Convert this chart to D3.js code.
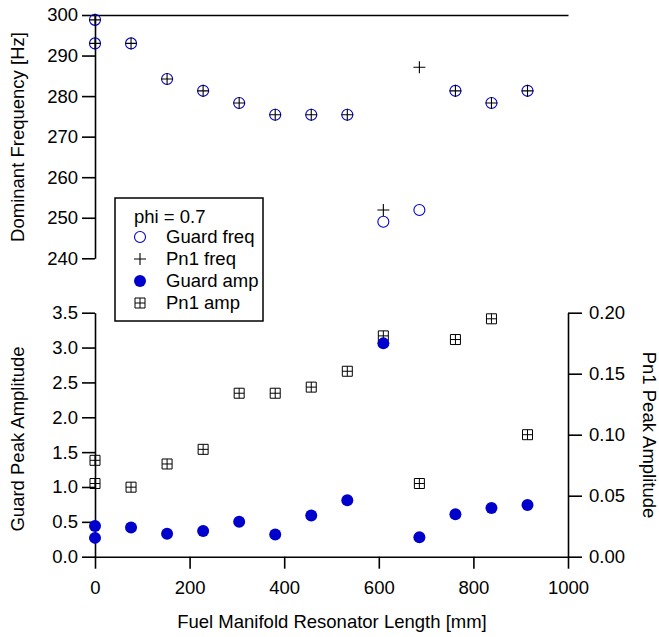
<!DOCTYPE html>
<html><head><meta charset="utf-8">
<script src="https://cdn.jsdelivr.net/npm/d3@7"></script>
<style>
body{margin:0;background:#fff;}
text{font-family:"Liberation Sans",Arial,sans-serif;fill:#000;}
</style></head>
<body><svg id="c" width="659" height="637"></svg>
<script>
const lengths = [0, 0, 76.2, 152.4, 228.6, 304.8, 381, 457.2, 533.4, 609.6, 685.8, 762, 838.2, 914.4];
const guardFreq = [298.8, 293.0, 293.0, 284.2, 281.3, 278.3, 275.4, 275.4, 275.4, 249.0, 251.9, 281.3, 278.3, 281.3];
const pn1Freq = [298.8, 293.0, 293.0, 284.2, 281.3, 278.3, 275.4, 275.4, 275.4, 251.9, 287.1, 281.3, 278.3, 281.3];
const guardAmp = [0.44, 0.27, 0.42, 0.33, 0.37, 0.50, 0.32, 0.59, 0.81, 3.06, 0.28, 0.61, 0.70, 0.74];
const pn1Amp = [0.079, 0.060, 0.057, 0.076, 0.088, 0.134, 0.134, 0.139, 0.152, 0.181, 0.060, 0.178, 0.195, 0.100];
const xTicks = [0, 200, 400, 600, 800, 1000];
const freqTicks = [240, 250, 260, 270, 280, 290, 300];
const guardAmpTicks = [0, 0.5, 1.0, 1.5, 2.0, 2.5, 3.0, 3.5];
const pn1AmpTicks = [0, 0.05, 0.10, 0.15, 0.20];
const legendItems = ["Guard freq", "Pn1 freq", "Guard amp", "Pn1 amp"];

const FS = 18.5;
const BLUE = "#0000cc";
const svg = d3.select("#c");
const x = d3.scaleLinear().domain([0, 1000]).range([95, 568]);
const yF = d3.scaleLinear().domain([240, 300]).range([258.3, 15]);
const yG = d3.scaleLinear().domain([0, 3.5]).range([556.7, 312.7]);
const yP = d3.scaleLinear().domain([0, 0.2]).range([556.7, 312.7]);

function styleAxis(g) {
  g.selectAll("path,line").attr("stroke", "#000").attr("stroke-width", 1.6);
  g.selectAll("text").style("font-size", FS + "px").style("font-family", "Liberation Sans, Arial, sans-serif").attr("fill", "#000");
}
svg.append("g").attr("transform", `translate(${x(0)},0)`)
  .call(d3.axisLeft(yF).tickValues(freqTicks).tickSize(13).tickSizeOuter(0).tickPadding(4))
  .call(styleAxis);
svg.append("g").attr("transform", `translate(0,${yF(300)})`)
  .call(d3.axisTop(x).tickValues([]).tickSizeOuter(0))
  .call(styleAxis);
svg.append("g").attr("transform", `translate(0,${yG(0)})`)
  .call(d3.axisBottom(x).tickValues(xTicks).tickFormat(d3.format("d")).tickSize(12).tickSizeOuter(0).tickPadding(12))
  .call(styleAxis);
svg.append("g").attr("transform", `translate(${x(0)},0)`)
  .call(d3.axisLeft(yG).tickValues(guardAmpTicks).tickFormat(d3.format(".1f")).tickSize(13).tickSizeOuter(0).tickPadding(4))
  .call(styleAxis);
svg.append("g").attr("transform", `translate(${x(1000)},0)`)
  .call(d3.axisRight(yP).tickValues(pn1AmpTicks).tickFormat(d3.format(".2f")).tickSize(14).tickSizeOuter(0).tickPadding(7))
  .call(styleAxis);

svg.append("text").attr("transform", "translate(18,137) rotate(-90)").attr("text-anchor", "middle").attr("dy", "0.35em").style("font-size", FS + "px").text("Dominant Frequency [Hz]");
svg.append("text").attr("transform", "translate(18,439) rotate(-90)").attr("text-anchor", "middle").attr("dy", "0.35em").style("font-size", FS + "px").text("Guard Peak Amplitude");
svg.append("text").attr("transform", "translate(649,435) rotate(90)").attr("text-anchor", "middle").attr("dy", "0.35em").style("font-size", FS + "px").text("Pn1 Peak Amplitude");
svg.append("text").attr("x", 332).attr("y", 622).attr("text-anchor", "middle").attr("dy", "0.35em").style("font-size", FS + "px").text("Fuel Manifold Resonator Length [mm]");

function openCircle(g, cx, cy) { g.append("circle").attr("cx", cx).attr("cy", cy).attr("r", 5.5).attr("fill", "none").attr("stroke", BLUE).attr("stroke-width", 1.1); }
function plus(g, cx, cy) { g.append("path").attr("d", `M${cx-6},${cy}H${cx+6}M${cx},${cy-6}V${cy+6}`).attr("stroke", "#000").attr("stroke-width", 1.1).attr("fill", "none"); }
function dot(g, cx, cy) { g.append("circle").attr("cx", cx).attr("cy", cy).attr("r", 6).attr("fill", BLUE); }
function boxCross(g, cx, cy) { g.append("path").attr("d", `M${cx-5},${cy-5}h10v10h-10zM${cx-5},${cy}h10M${cx},${cy-5}v10`).attr("stroke", "#000").attr("stroke-width", 1).attr("fill", "none"); }

const gm = svg.append("g");
lengths.forEach((L, i) => openCircle(gm, x(L), yF(guardFreq[i])));
lengths.forEach((L, i) => plus(gm, x(L), yF(pn1Freq[i])));
lengths.forEach((L, i) => boxCross(gm, x(L), yP(pn1Amp[i])));
lengths.forEach((L, i) => dot(gm, x(L), yG(guardAmp[i])));

const lg = svg.append("g");
lg.append("rect").attr("x", 115).attr("y", 198).attr("width", 148).attr("height", 123).attr("fill", "#fff").attr("stroke", "#000").attr("stroke-width", 1.5);
lg.append("text").attr("x", 134).attr("y", 216.5).attr("dy", "0.35em").style("font-size", FS + "px").text("phi = 0.7");
const markers = [openCircle, plus, dot, boxCross];
legendItems.forEach((t, i) => {
  const cy = 237 + i * 22;
  markers[i](lg, 140, cy);
  lg.append("text").attr("x", 166).attr("y", cy).attr("dy", "0.35em").style("font-size", FS + "px").text(t);
});
</script></body></html>
